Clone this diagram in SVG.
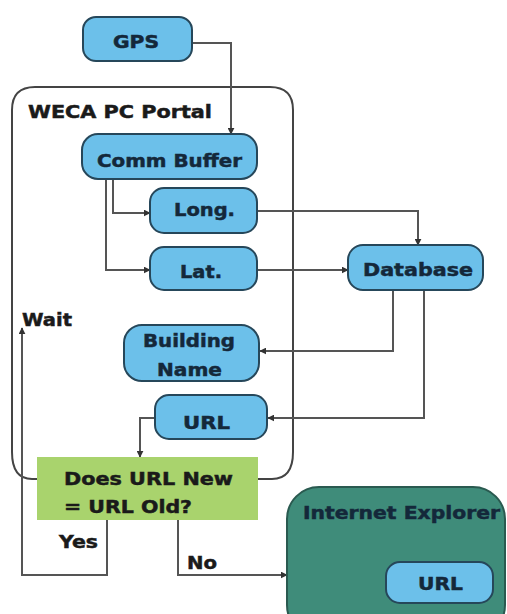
<svg xmlns="http://www.w3.org/2000/svg" width="507" height="614" viewBox="0 0 507 614">
<defs>
<marker id="ah" viewBox="0 0 10 10" refX="9" refY="5" markerWidth="7" markerHeight="7" markerUnits="userSpaceOnUse" orient="auto">
<path d="M0,0 L10,5 L0,10 z" fill="#333"/>
</marker>
<style>
.box{fill:#6cc0ea;stroke:#26475a;stroke-width:2}
.t{font-family:"DejaVu Sans",Verdana,sans-serif;font-weight:bold;font-size:18px;fill:#14283a;stroke:#14283a;stroke-width:0.5}
.lbl{font-family:"DejaVu Sans",Verdana,sans-serif;font-weight:bold;font-size:18px;fill:#1a1a1a;stroke:#1a1a1a;stroke-width:0.5}
.c{fill:none;stroke:#555;stroke-width:2}
.ca{fill:none;stroke:#555;stroke-width:2;marker-end:url(#ah)}
</style>
</defs>
<rect width="507" height="614" fill="#fff"/>
<g id="portal">
<path d="M37,479 L32,479 Q12,479 12,452 L12,110 Q12,87 35,87 L270,87 Q293,87 293,110 L293,452 Q293,479 272,479 L258,479" fill="none" stroke="#444" stroke-width="2"/>
<text class="lbl" x="28" y="118" textLength="184" lengthAdjust="spacingAndGlyphs">WECA PC Portal</text>
</g>
<g id="connectors">
<path class="ca" d="M192,43 L231,43 L231,134"/>
<path class="ca" d="M113,179 L113,213 L150,213"/>
<path class="ca" d="M106,179 L106,270 L150,270"/>
<path class="ca" d="M257,211 L418,211 L418,245"/>
<path class="ca" d="M257,270 L348,270"/>
<path class="ca" d="M393,290 L393,351 L260,351"/>
<path class="ca" d="M424,290 L424,418 L268,418"/>
<path class="ca" d="M155,418 L140,418 L140,457"/>
<path class="ca" d="M107,520 L107,575 L22,575 L22,328"/>
<path class="ca" d="M178,520 L178,575 L287,575"/>
</g>
<g id="gps">
<rect class="box" x="83" y="17" width="109" height="44" rx="13"/>
<text class="t" x="113" y="48" textLength="46" lengthAdjust="spacingAndGlyphs">GPS</text>
</g>
<g id="comm-buffer">
<rect class="box" x="82" y="134" width="175" height="45" rx="16"/>
<text class="t" x="97" y="167" textLength="145" lengthAdjust="spacingAndGlyphs">Comm Buffer</text>
</g>
<g id="long">
<rect class="box" x="150" y="188" width="107" height="45" rx="14"/>
<text class="t" x="174" y="216" textLength="61" lengthAdjust="spacingAndGlyphs">Long.</text>
</g>
<g id="lat">
<rect class="box" x="150" y="247" width="107" height="43" rx="14"/>
<text class="t" x="180" y="278" textLength="42" lengthAdjust="spacingAndGlyphs">Lat.</text>
</g>
<g id="database">
<rect class="box" x="348" y="245" width="135" height="45" rx="15"/>
<text class="t" x="363" y="276" textLength="110" lengthAdjust="spacingAndGlyphs">Database</text>
</g>
<g id="building-name">
<rect class="box" x="124" y="325" width="135" height="56" rx="18"/>
<text class="t" x="143" y="347" textLength="92" lengthAdjust="spacingAndGlyphs">Building</text>
<text class="t" x="157" y="376" textLength="65" lengthAdjust="spacingAndGlyphs">Name</text>
</g>
<g id="url">
<rect class="box" x="155" y="395" width="112" height="44" rx="14"/>
<text class="t" x="183" y="429" textLength="47" lengthAdjust="spacingAndGlyphs">URL</text>
</g>
<g id="wait">
<text class="lbl" x="22" y="326" textLength="50" lengthAdjust="spacingAndGlyphs">Wait</text>
</g>
<g id="decision">
<rect x="37" y="457" width="221" height="63" fill="#a9d36d"/>
<text class="lbl" x="64" y="485" textLength="169" lengthAdjust="spacingAndGlyphs">Does URL New</text>
<text class="lbl" x="64" y="513" textLength="128" lengthAdjust="spacingAndGlyphs">= URL Old?</text>
</g>
<g id="yes-no">
<text class="lbl" x="59" y="548" textLength="39" lengthAdjust="spacingAndGlyphs">Yes</text>
<text class="lbl" x="187" y="569" textLength="30" lengthAdjust="spacingAndGlyphs">No</text>
</g>
<g id="internet-explorer">
<rect x="287" y="487" width="218" height="150" rx="32" fill="#3f8c7a" stroke="#2a5a50" stroke-width="2"/>
<text class="t" x="303" y="519" textLength="197" lengthAdjust="spacingAndGlyphs">Internet Explorer</text>
</g>
<g id="ie-url">
<rect class="box" x="386" y="562" width="107" height="41" rx="14"/>
<text class="t" x="418" y="590" textLength="45" lengthAdjust="spacingAndGlyphs">URL</text>
</g>
</svg>
